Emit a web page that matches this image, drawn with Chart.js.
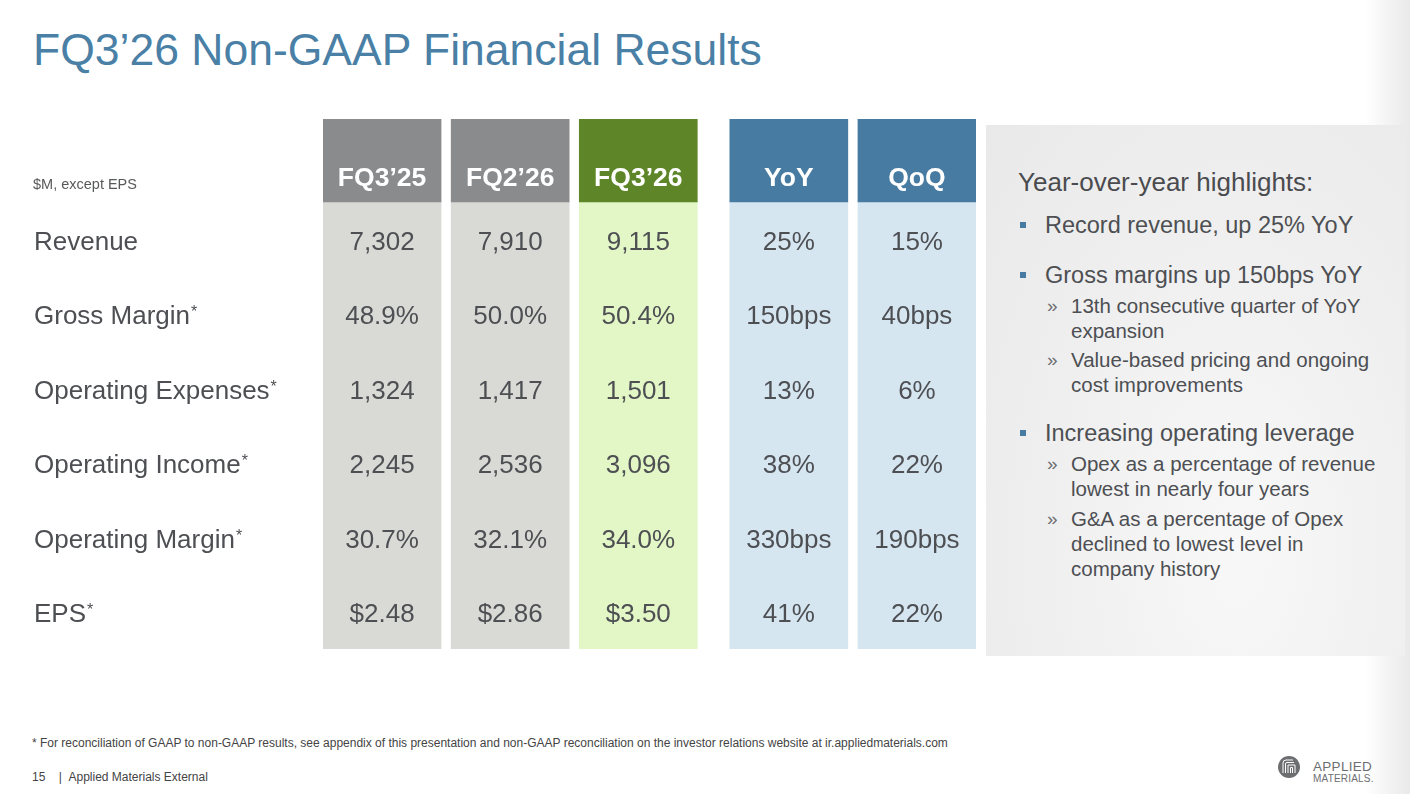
<!DOCTYPE html>
<html><head><meta charset="utf-8">
<script src="https://cdn.jsdelivr.net/npm/chart.js@4.4.1/dist/chart.umd.min.js"></script>
<style>
html,body{margin:0;padding:0;background:#fff;}
body{width:1410px;height:794px;position:relative;overflow:hidden;font-family:"Liberation Sans",Arial,sans-serif;color:#4d4f53;}
.abs{position:absolute;white-space:nowrap;}
#edge{position:absolute;right:0;top:0;width:45px;height:794px;background:linear-gradient(to right, rgba(236,236,236,0), #e9e9e9);}
#title{left:33px;top:28px;font-size:44.5px;line-height:44px;color:#4a7fa6;}
#panel{position:absolute;left:986px;top:125px;width:419px;height:531px;background:radial-gradient(ellipse at 60% 80%, #f8f8f8 0%, #efefef 55%, #e9e9e9 100%);}
.h{font-size:26px;line-height:30px;left:1018px;color:#4a4b4f;}
.b{font-size:23.5px;line-height:28px;left:1045px;}
.b::before{content:"";position:absolute;left:-25px;top:11px;width:6px;height:6px;background:#477ba1;}
.s{font-size:20.5px;line-height:25px;left:1071px;}
.m{font-size:19px;line-height:25px;left:1047px;color:#6d6e71;}
.foot{font-size:12px;line-height:14px;color:#444;}
#chartwrap{position:absolute;left:0;top:0;width:1410px;height:794px;}
</style></head>
<body>
<div id="edge"></div>
<div id="title" class="abs">FQ3’26 Non-GAAP Financial Results</div>
<div id="panel"></div>
<div class="abs h" style="top:167px">Year-over-year highlights:</div>
<div class="abs b" style="top:211px">Record revenue, up 25% YoY</div>
<div class="abs b" style="top:261px">Gross margins up 150bps YoY</div>
<div class="abs m" style="top:293px">»</div>
<div class="abs s" style="top:293px">13th consecutive quarter of YoY</div>
<div class="abs s" style="top:318px">expansion</div>
<div class="abs m" style="top:347px">»</div>
<div class="abs s" style="top:347px">Value-based pricing and ongoing</div>
<div class="abs s" style="top:372px">cost improvements</div>
<div class="abs b" style="top:419px">Increasing operating leverage</div>
<div class="abs m" style="top:451px">»</div>
<div class="abs s" style="top:451px">Opex as a percentage of revenue</div>
<div class="abs s" style="top:476px">lowest in nearly four years</div>
<div class="abs m" style="top:506px">»</div>
<div class="abs s" style="top:506px">G&amp;A as a percentage of Opex</div>
<div class="abs s" style="top:531px">declined to lowest level in</div>
<div class="abs s" style="top:556px">company history</div>
<div class="abs foot" style="left:32px;top:736px">* For reconciliation of GAAP to non-GAAP results, see appendix of this presentation and non-GAAP reconciliation on the investor relations website at ir.appliedmaterials.com</div>
<div class="abs foot" style="left:32px;top:770px">15&nbsp;&nbsp;&nbsp;&nbsp;|&nbsp;&nbsp;Applied Materials External</div>
<svg class="abs" style="left:1274px;top:752px" width="110" height="32" viewBox="0 0 110 32">
  <circle cx="15" cy="15" r="11" fill="#6d6e71"/>
  <path d="M9 21 V11 a3 3 0 0 1 3 -3 H19 M11.5 21 V12 a1.5 1.5 0 0 1 1.5 -1.5 H20 M14 21 V13 H21 V21 M16.5 21 V15.5 H18.5 V21" fill="none" stroke="#fff" stroke-width="1"/>
  <text x="39" y="19" font-family="Liberation Sans, Arial" font-size="13.5" fill="#6d6e71" letter-spacing="0.3">APPLIED</text>
  <text x="39" y="30" font-family="Liberation Sans, Arial" font-size="10" fill="#6d6e71" letter-spacing="0.2">MATERIALS.</text>
</svg>
<div id="chartwrap"><canvas id="c" width="1410" height="794"></canvas></div>
<script>
// ---- data ----
const quarterLabels = ["FQ3’25", "FQ2’26", "FQ3’26"];
const changeLabels = ["YoY", "QoQ"];
const rowLabels = ["Revenue", "Gross Margin", "Operating Expenses", "Operating Income", "Operating Margin", "EPS"];
const rowFootnoted = [false, true, true, true, true, true];
const fq3_25 = ["7,302", "48.9%", "1,324", "2,245", "30.7%", "$2.48"];
const fq2_26 = ["7,910", "50.0%", "1,417", "2,536", "32.1%", "$2.86"];
const fq3_26 = ["9,115", "50.4%", "1,501", "3,096", "34.0%", "$3.50"];
const yoy = ["25%", "150bps", "13%", "38%", "330bps", "41%"];
const qoq = ["15%", "40bps", "6%", "22%", "190bps", "22%"];
const unitNote = "$M, except EPS";

// ---- layout / style ----
const columnLabels = quarterLabels.concat(changeLabels);
const columnValues = [fq3_25, fq2_26, fq3_26, yoy, qoq];
const headColors = ["#8a8b8d", "#8a8b8d", "#5e8527", "#477ba1", "#477ba1"];
const bodyColors = ["#d9dad6", "#d9dad6", "#e2f6c6", "#d6e6f1", "#d6e6f1"];
const GROUP_GAP = 0.175;
const HALF_COL = 0.461;
const HEADER_SPAN = 1.114;
const HEADER_TEXT_Y = -0.336;
const NOTE_Y = -0.25;
const nRows = rowLabels.length;
const colX = columnLabels.map((_, i) => i + (i >= quarterLabels.length ? GROUP_GAP : 0));
const FONT = '"Liberation Sans", Arial, sans-serif';

const tableText = {
  id: 'tableText',
  afterDatasetsDraw(chart) {
    const { ctx, scales: { x, y } } = chart;
    ctx.save();
    ctx.textBaseline = 'alphabetic';
    ctx.textAlign = 'center';
    ctx.font = 'bold 26.5px ' + FONT;
    ctx.fillStyle = '#ffffff';
    columnLabels.forEach((lab, i) => {
      ctx.fillText(lab, x.getPixelForValue(colX[i]), y.getPixelForValue(HEADER_TEXT_Y) + 0.358 * 26.5);
    });
    ctx.font = '26px ' + FONT;
    ctx.fillStyle = '#4d4f53';
    columnValues.forEach((vals, i) => {
      vals.forEach((v, r) => {
        ctx.fillText(v, x.getPixelForValue(colX[i]), y.getPixelForValue(r + 0.5) + 0.358 * 26 + 1);
      });
    });
    ctx.textAlign = 'left';
    rowLabels.forEach((lab, r) => {
      const by = y.getPixelForValue(r + 0.5) + 0.358 * 26 + 1;
      ctx.font = '26px ' + FONT;
      ctx.fillStyle = '#4d4f53';
      ctx.fillText(lab, 34, by);
      if (rowFootnoted[r]) {
        const w = ctx.measureText(lab).width;
        ctx.font = '16px ' + FONT;
        ctx.fillText('*', 34 + w + 1, by - 7);
      }
    });
    ctx.font = '14.5px ' + FONT;
    ctx.fillStyle = '#58595b';
    ctx.fillText(unitNote, 33, y.getPixelForValue(NOTE_Y) + 0.358 * 14.5);
    ctx.restore();
  }
};

new Chart(document.getElementById('c'), {
  type: 'bar',
  data: {
    datasets: [
      {
        label: 'header',
        data: colX.map(x => ({ x: x, y: [-HEADER_SPAN, 0] })),
        backgroundColor: headColors,
        grouped: false, barThickness: 118, borderWidth: 0, borderSkipped: false
      },
      {
        label: 'body',
        data: colX.map(x => ({ x: x, y: [0, nRows] })),
        backgroundColor: bodyColors,
        grouped: false, barThickness: 118, borderWidth: 0, borderSkipped: false
      }
    ]
  },
  options: {
    responsive: false,
    animation: false,
    events: [],
    layout: { padding: { left: 323, right: 434, top: 119, bottom: 145 } },
    plugins: { legend: { display: false }, tooltip: { enabled: false }, title: { display: false } },
    scales: {
      x: { type: 'linear', display: false, offset: false, grid: { offset: false },
           min: colX[0] - HALF_COL, max: colX[colX.length - 1] + HALF_COL },
      y: { type: 'linear', display: false, reverse: true, min: -HEADER_SPAN, max: nRows }
    }
  },
  plugins: [tableText]
});
</script>
</body></html>
